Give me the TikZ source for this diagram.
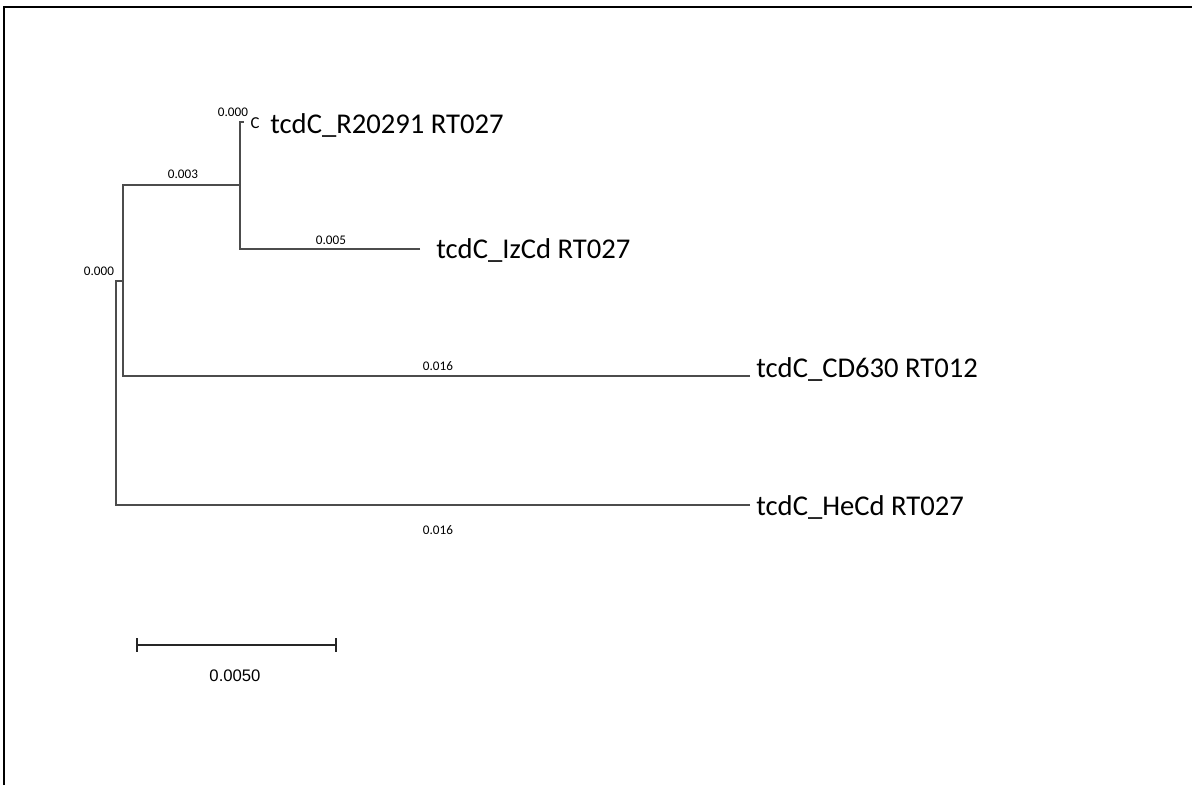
\documentclass[tikz,border=0pt]{standalone}
\usepackage{fontspec}
\setmainfont{Carlito}
\newfontfamily\barfont{Liberation Sans}
\usepackage{tikz}

\begin{document}
\begin{tikzpicture}[x=0.02cm, y=-0.02cm,
  branch/.style={black!70, line width=0.6pt},
  leaf/.style={anchor=base west, inner sep=0pt, font=\fontsize{16.3}{18}\selectfont},
  blen/.style={inner sep=0pt, font=\fontsize{7.5}{8}\selectfont}]
  % page size and the open frame (top and left only)
  \useasboundingbox (0,0) rectangle (1192,785);
  \draw[line width=1.4pt] (4,785) -- (4,7) -- (1192,7);
  % inner nodes of the tree
  \coordinate (root) at (116,281);
  \coordinate (a) at (123,281);
  \coordinate (b) at (240,185);
  % tips of the branches
  \coordinate (tR) at (244,122);
  \coordinate (tI) at (420,249);
  \coordinate (tC) at (750,376);
  \coordinate (tH) at (750,505);
  \draw[branch] (tH) -| (root) -- (a);
  \draw[branch] (tC) -| (a) |- (b);
  \draw[branch] (tI) -| (b) |- (tR);
  % taxa
  \node[leaf] (R20291) at (270,133) {tcdC\_R20291 RT027};
  \node[leaf] (IzCd)   at (436,258) {tcdC\_IzCd RT027};
  \node[leaf] (CD630)  at (756,377) {tcdC\_CD630 RT012};
  \node[leaf] (HeCd)   at (756,515) {tcdC\_HeCd RT027};
  \node[inner sep=0pt, font=\fontsize{9.5}{10}\selectfont] (cut) at (255,123) {C};
  % branch lengths
  \node[blen] (l1) at (233,112) {0.000};
  \node[blen] (l2) at (183,174) {0.003};
  \node[blen] (l3) at (331,240) {0.005};
  \node[blen] (l4) at (438,366) {0.016};
  \node[blen] (l5) at (438,530) {0.016};
  \node[blen] (l6) at (99,271)  {0.000};
  % scale bar
  \coordinate (s1) at (137,645);
  \coordinate (s2) at (336,645);
  \draw[black!85, line width=1.1pt] (s1) -- (s2);
  \draw[black!85, line width=1.1pt] ([yshift=0.14cm]s1) -- ([yshift=-0.14cm]s1);
  \draw[black!85, line width=1.1pt] ([yshift=0.14cm]s2) -- ([yshift=-0.14cm]s2);
  \node[font=\barfont\fontsize{9.5}{11}\selectfont, inner sep=0pt] (sbar) at (235,676) {0.0050};
\end{tikzpicture}
\end{document}
